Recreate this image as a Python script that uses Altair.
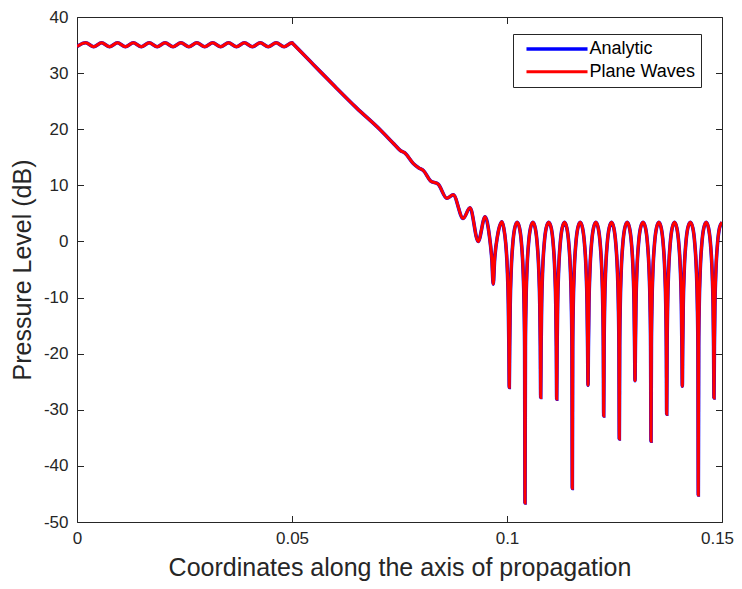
import altair as alt
import pandas as pd

# ---------------- data ----------------
series_names = ["Analytic", "Plane Waves"]
series_colors = ["#0000ff", "#ff0000"]
x_ticks = [0, 0.05, 0.1, 0.15]
y_ticks = [-50, -40, -30, -20, -10, 0, 10, 20, 30, 40]

# flat rippled part (0 .. 0.05): alternating troughs / peaks
wave_x = [0.0, 0.00203, 0.00388, 0.00572, 0.00757, 0.00941, 0.01126, 0.0131,
          0.01495, 0.01679, 0.01864, 0.02048, 0.02233, 0.02417, 0.02602,
          0.02786, 0.02971, 0.03155, 0.0334, 0.03524, 0.03709, 0.03893,
          0.04078, 0.04262, 0.04447, 0.04631, 0.04816]
wave_y = [34.75, 35.4, 34.7, 35.4, 34.7, 35.4, 34.7, 35.4, 34.7, 35.4, 34.7,
          35.4, 34.7, 35.4, 34.7, 35.4, 34.7, 35.4, 34.7, 35.4, 34.7, 35.4,
          34.7, 35.4, 34.7, 35.4, 34.7]

# decaying ramp (0.05 .. 0.099)
ramp_x = [0.05, 0.0503, 0.055, 0.0600, 0.065, 0.0705, 0.0738, 0.0752, 0.0762,
          0.0782, 0.0795, 0.0806, 0.0822, 0.0840, 0.0860, 0.0875, 0.0898,
          0.0914, 0.0933, 0.0949, 0.0959, 0.0965, 0.0968, 0.0971, 0.0978, 0.0988]
ramp_y = [35.4, 35.17, 31.5, 27.6, 23.8, 19.9, 17.3, 16.2, 15.8, 13.9, 13.1,
          12.6, 10.8, 10.2, 7.7, 8.3, 4.1, 6.0, 0.0, 4.4, 1.0, -3.5, -7.6,
          -3.5, 1.0, 3.5]

# interference region: nulls and the lobe peaks that follow them
null_x = [0.10053, 0.10419, 0.10784, 0.11156, 0.11519, 0.11884, 0.12249,
          0.12612, 0.12977, 0.13349, 0.13714, 0.14077, 0.14449, 0.14814]
null_y = [-26.0, -46.6, -27.8, -28.1, -44.0, -25.6, -31.1, -35.2, -24.8,
          -35.6, -30.8, -25.8, -45.2, -27.9]
peak_x = [0.10236, 0.10602, 0.1097, 0.11338, 0.11702, 0.12067, 0.12431,
          0.12795, 0.13163, 0.13532, 0.13896, 0.14263, 0.14632, 0.15]
peak_y = [3.4, 3.4, 3.4, 3.4, 3.4, 3.4, 3.4, 3.4, 3.4, 3.4, 3.4, 3.4, 3.4, 3.4]
# lobe flank shape read around each null (distance from null, level in dB)
flank_dx = [0.00009, 0.00022, 0.00046, 0.00082, 0.00128]
flank_db = [-18.7, -11.2, -4.9, -0.4, 2.4]

# ---------------- build table ----------------
xs = list(wave_x) + list(ramp_x)
ys = list(wave_y) + list(ramp_y)
for nx, ny, px, py in zip(null_x, null_y, peak_x, peak_y):
    for dx, db in zip(reversed(flank_dx), reversed(flank_db)):
        xs.append(nx - dx)
        ys.append(db)
    xs.append(nx)
    ys.append(ny)
    for dx, db in zip(flank_dx, flank_db):
        xs.append(nx + dx)
        ys.append(db)
    xs.append(px)
    ys.append(py)

one = pd.DataFrame({"x": xs, "y": ys})
df = pd.concat([one.assign(series=s) for s in series_names], ignore_index=True)

FONT = "Liberation Sans"
TXT = "#262626"
TICK = 6.5

xscale = alt.Scale(domain=[0, 0.15], nice=False, zero=False)
yscale = alt.Scale(domain=[-50, 40], nice=False, zero=False)
LBL = "'' + datum.value"

lines = alt.Chart(df).mark_line(interpolate="monotone", clip=True).encode(
    x=alt.X("x:Q", scale=xscale, axis=alt.Axis(
        orient="bottom", values=x_ticks, labelExpr=LBL, ticks=False, tickSize=0,
        domain=False, grid=False, labelFlush=False, labelPadding=8,
        labelOffset={"condition": {"test": "datum.value >= 0.149", "value": -5}, "value": 0},
        labelFont=FONT, labelFontSize=17, labelColor=TXT,
        title="Coordinates along the axis of propagation", titleFont=FONT,
        titleFontSize=25, titleFontWeight="normal", titleColor=TXT,
        titleX=322.5, titleY=45, titleBaseline="middle", titleAlign="center")),
    y=alt.Y("y:Q", scale=yscale, axis=alt.Axis(
        orient="left", values=y_ticks, labelExpr=LBL, ticks=False, tickSize=0,
        domain=False, grid=False, labelPadding=9, labelFlush=False,
        labelFont=FONT, labelFontSize=17, labelColor=TXT,
        title="Pressure Level (dB)", titleFont=FONT, titleFontSize=25,
        titleFontWeight="normal", titleColor=TXT, titleAngle=270,
        titleX=-55, titleY=252.5, titleBaseline="middle", titleAlign="center")),
    color=alt.Color("series:N", scale=alt.Scale(domain=series_names, range=series_colors),
                    legend=alt.Legend(
                        title=None, orient="none", legendX=436, legendY=17,
                        fillColor="white", strokeColor=TXT, padding=6,
                        symbolType="M-5,0H5", symbolSize=149, symbolStrokeWidth=3,
                        symbolOffset=29, labelOffset=23.5, rowPadding=4.7,
                        labelFont=FONT, labelFontSize=18, labelColor="#000000")),
    strokeWidth=alt.StrokeWidth("series:N", scale=alt.Scale(domain=series_names, range=[3.6, 3.0]),
                                legend=None),
)

ticks_in = alt.Chart(df).mark_point(opacity=0).encode(
    x=alt.X("x:Q", scale=xscale, axis=alt.Axis(
        orient="bottom", offset=-TICK, tickSize=TICK, values=x_ticks, labels=False,
        domain=False, grid=False, title=None, tickColor=TXT, tickWidth=1)),
    y=alt.Y("y:Q", scale=yscale, axis=alt.Axis(
        orient="left", offset=-TICK, tickSize=TICK, values=y_ticks, labels=False,
        domain=False, grid=False, title=None, tickColor=TXT, tickWidth=1)),
)

ticks_out = alt.Chart(df).mark_point(opacity=0).encode(
    x=alt.X("x:Q", scale=xscale, axis=alt.Axis(
        orient="top", offset=-TICK, tickSize=TICK, values=x_ticks, labels=False,
        domain=False, grid=False, title=None, tickColor=TXT, tickWidth=1)),
    y=alt.Y("y:Q", scale=yscale, axis=alt.Axis(
        orient="right", offset=-TICK, tickSize=TICK, values=y_ticks, labels=False,
        domain=False, grid=False, title=None, tickColor=TXT, tickWidth=1)),
)

chart = alt.layer(lines, ticks_in, ticks_out).resolve_axis(
    x="independent", y="independent"
).properties(
    width=645, height=505,
    autosize=alt.AutoSizeParams(type="none"),
    padding={"left": 69, "top": 9, "right": 12, "bottom": 59},
    background="white",
).configure_view(stroke=TXT, strokeWidth=1)

chart.save("out.html", embed_options={"renderer": "svg", "actions": False})
